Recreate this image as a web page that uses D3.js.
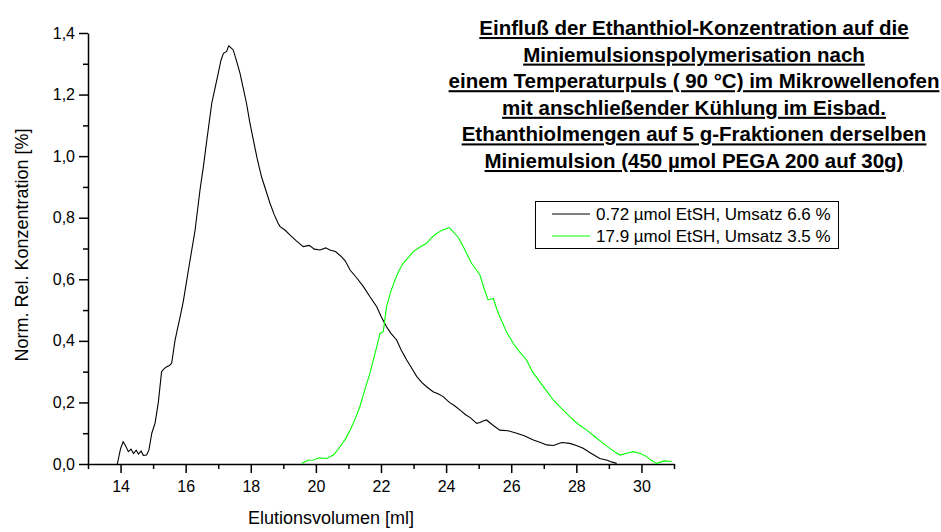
<!DOCTYPE html>
<html>
<head>
<meta charset="utf-8">
<script src="https://cdn.jsdelivr.net/npm/d3@7"></script>
<style>
  body { margin: 0; background: #fff; }
  svg { font-family: 'Liberation Sans', Arial, sans-serif; }
</style>
</head>
<body>
<div id="chart"></div>
<script>
var width = 941;
var height = 532;

// 0.72 µmol EtSH, Umsatz 6.6 %
var blackX = [13.9, 14.0, 14.08, 14.15, 14.24, 14.32, 14.4, 14.48, 14.55, 14.63, 14.7, 14.8, 14.87, 14.96, 15.06, 15.16, 15.26, 15.34, 15.42, 15.5, 15.57, 15.67, 15.75, 15.83, 15.93, 16.1, 16.29, 16.44, 16.55, 16.65, 16.8, 16.9, 17.0, 17.08, 17.16, 17.26, 17.32, 17.36, 17.41, 17.46, 17.56, 17.67, 17.77, 17.87, 17.97, 18.08, 18.2, 18.33, 18.46, 18.59, 18.72, 18.84, 18.9, 19.05, 19.2, 19.4, 19.61, 19.8, 19.95, 20.13, 20.3, 20.43, 20.6, 20.79, 20.9, 21.05, 21.25, 21.46, 21.65, 21.87, 22.0, 22.17, 22.3, 22.48, 22.62, 22.79, 22.95, 23.1, 23.25, 23.4, 23.6, 23.75, 23.91, 24.1, 24.25, 24.43, 24.6, 24.75, 24.94, 25.04, 25.14, 25.24, 25.45, 25.65, 25.9, 26.17, 26.4, 26.68, 26.9, 27.09, 27.3, 27.55, 27.8, 28.0, 28.21, 28.45, 28.72, 28.95, 29.1, 29.24];
var blackY = [0.0, 0.05, 0.072, 0.06, 0.04, 0.048, 0.034, 0.045, 0.032, 0.042, 0.028, 0.029, 0.045, 0.1, 0.133, 0.2, 0.3, 0.31, 0.316, 0.32, 0.327, 0.40, 0.44, 0.478, 0.53, 0.64, 0.76, 0.89, 0.97, 1.052, 1.171, 1.22, 1.269, 1.31, 1.334, 1.34, 1.358, 1.355, 1.35, 1.345, 1.31, 1.269, 1.22, 1.171, 1.11, 1.052, 0.99, 0.933, 0.89, 0.847, 0.81, 0.782, 0.771, 0.76, 0.744, 0.725, 0.706, 0.71, 0.698, 0.695, 0.702, 0.695, 0.69, 0.673, 0.66, 0.63, 0.605, 0.576, 0.545, 0.511, 0.48, 0.446, 0.425, 0.403, 0.37, 0.338, 0.31, 0.284, 0.265, 0.251, 0.235, 0.228, 0.219, 0.2, 0.19, 0.175, 0.16, 0.15, 0.132, 0.135, 0.14, 0.143, 0.125, 0.11, 0.108, 0.1, 0.092, 0.078, 0.07, 0.062, 0.06, 0.07, 0.067, 0.06, 0.051, 0.035, 0.018, 0.012, 0.006, 0.002];

// 17.9 µmol EtSH, Umsatz 3.5 %
var greenX = [19.56, 19.75, 19.92, 20.1, 20.33, 20.55, 20.74, 20.9, 21.05, 21.2, 21.35, 21.5, 21.66, 21.77, 21.87, 21.97, 22.07, 22.17, 22.3, 22.43, 22.55, 22.68, 22.85, 22.99, 23.2, 23.4, 23.55, 23.71, 23.85, 24.02, 24.1, 24.22, 24.38, 24.53, 24.65, 24.78, 24.9, 25.04, 25.15, 25.29, 25.45, 25.55, 25.65, 25.85, 26.06, 26.25, 26.47, 26.65, 26.88, 27.1, 27.29, 27.55, 27.8, 28.05, 28.32, 28.55, 28.83, 29.1, 29.34, 29.55, 29.75, 29.95, 30.16, 30.3, 30.47, 30.7, 30.93];
var greenY = [0.002, 0.012, 0.013, 0.02, 0.018, 0.03, 0.056, 0.08, 0.11, 0.145, 0.186, 0.24, 0.295, 0.34, 0.381, 0.424, 0.43, 0.511, 0.56, 0.598, 0.628, 0.652, 0.672, 0.69, 0.705, 0.717, 0.735, 0.749, 0.758, 0.765, 0.768, 0.754, 0.735, 0.706, 0.68, 0.652, 0.635, 0.614, 0.575, 0.533, 0.538, 0.505, 0.478, 0.43, 0.392, 0.365, 0.338, 0.3, 0.267, 0.235, 0.208, 0.18, 0.154, 0.13, 0.11, 0.09, 0.067, 0.045, 0.029, 0.035, 0.04, 0.035, 0.024, 0.012, 0.002, 0.01, 0.008];

var seriesNames = ['0.72 µmol EtSH, Umsatz 6.6 %', '17.9 µmol EtSH, Umsatz 3.5 %'];
var seriesColors = ['#000000', '#00ff00'];

var xTicks = [14, 16, 18, 20, 22, 24, 26, 28, 30];
var xMinorTicks = [13, 15, 17, 19, 21, 23, 25, 27, 29, 31];
var yTicks = [0, 0.2, 0.4, 0.6, 0.8, 1.0, 1.2, 1.4];
var yMinorTicks = [0.1, 0.3, 0.5, 0.7, 0.9, 1.1, 1.3];

var titleLines = [
  'Einfluß der Ethanthiol-Konzentration auf die',
  'Miniemulsionspolymerisation nach',
  'einem Temperaturpuls ( 90 °C) im Mikrowellenofen',
  'mit anschließender Kühlung im Eisbad.',
  'Ethanthiolmengen auf 5 g-Fraktionen derselben',
  'Miniemulsion (450 µmol PEGA 200 auf 30g)'
];

var svg = d3.select('#chart').append('svg')
  .attr('width', width)
  .attr('height', height);

var x = d3.scaleLinear().domain([13, 31]).range([88, 674]);
var y = d3.scaleLinear().domain([0, 1.4]).range([464, 33]);
var fmt = function(d) { return d3.format('.1f')(d).replace('.', ','); };

// minor ticks
svg.append('g')
  .attr('transform', 'translate(0,464)')
  .call(d3.axisBottom(x).tickValues(xMinorTicks).tickSize(5).tickFormat(''))
  .call(function(g) { g.select('.domain').remove(); });
svg.append('g')
  .attr('transform', 'translate(88,0)')
  .call(d3.axisLeft(y).tickValues(yMinorTicks).tickSize(5).tickFormat(''))
  .call(function(g) { g.select('.domain').remove(); });

var xAxis = svg.append('g')
  .attr('transform', 'translate(0,464)')
  .call(d3.axisBottom(x).tickValues(xTicks).tickSize(9).tickSizeOuter(0).tickPadding(8));
xAxis.selectAll('text').attr('font-size', 16).attr('fill', '#000');

var yAxis = svg.append('g')
  .attr('transform', 'translate(88,0)')
  .call(d3.axisLeft(y).tickValues(yTicks).tickSize(9).tickSizeOuter(0).tickPadding(4).tickFormat(fmt));
yAxis.selectAll('text').attr('font-size', 16).attr('fill', '#000');

svg.selectAll('.domain, .tick line').attr('stroke', '#000').attr('stroke-width', 1.5);

// curves
var line = d3.line()
  .x(function(d) { return x(d[0]); })
  .y(function(d) { return y(d[1]); });

var series = [d3.zip(blackX, blackY), d3.zip(greenX, greenY)];
svg.selectAll('.curve')
  .data(series)
  .enter().append('path')
  .attr('class', 'curve')
  .attr('fill', 'none')
  .attr('stroke', function(d, i) { return seriesColors[i]; })
  .attr('stroke-width', 1.1)
  .attr('d', line);

// axis titles
svg.append('text')
  .attr('x', 331)
  .attr('y', 524)
  .attr('text-anchor', 'middle')
  .attr('font-size', 18)
  .text('Elutionsvolumen [ml]');

svg.append('text')
  .attr('transform', 'translate(28,245) rotate(-90)')
  .attr('text-anchor', 'middle')
  .attr('font-size', 18)
  .text('Norm. Rel. Konzentration [%]');

// title
svg.append('g').selectAll('text')
  .data(titleLines)
  .enter().append('text')
  .attr('x', 694)
  .attr('y', function(d, i) { return 35 + i * 26.6; })
  .attr('text-anchor', 'middle')
  .attr('font-size', 20.5)
  .attr('font-weight', 'bold')
  .attr('text-decoration', 'underline')
  .text(function(d) { return d; });

// legend
var legend = svg.append('g');
legend.append('rect')
  .attr('x', 535.5).attr('y', 201.5)
  .attr('width', 303).attr('height', 47)
  .attr('fill', '#fff').attr('stroke', '#000');
var item = legend.selectAll('.item')
  .data(seriesNames)
  .enter().append('g')
  .attr('transform', function(d, i) { return 'translate(0,' + (214 + i * 22) + ')'; });
item.append('line')
  .attr('x1', 552).attr('x2', 590)
  .attr('stroke', function(d, i) { return seriesColors[i]; });
item.append('text')
  .attr('x', 596).attr('dy', '0.35em')
  .attr('font-size', 17)
  .text(function(d) { return d; });
</script>
</body>
</html>
